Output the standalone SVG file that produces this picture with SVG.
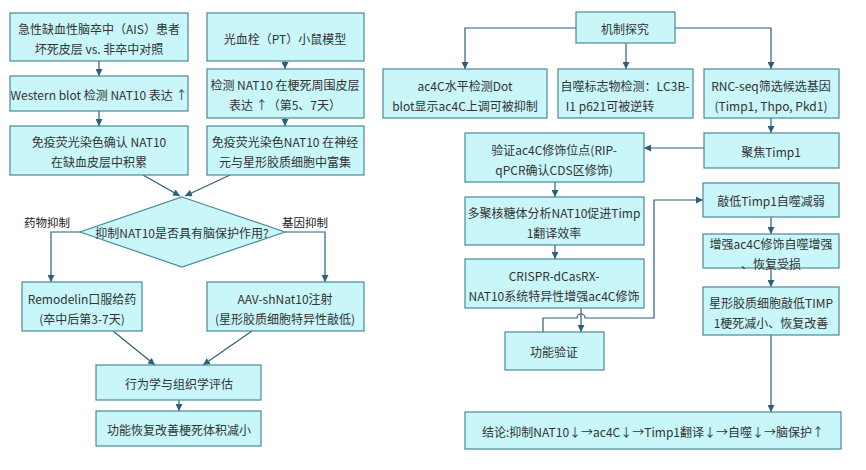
<svg xmlns="http://www.w3.org/2000/svg" width="866" height="470" viewBox="0 0 866 470">
<defs>
<marker id="ah" viewBox="0 0 10 10" refX="10" refY="5" markerWidth="7" markerHeight="7" orient="auto" markerUnits="userSpaceOnUse">
<path d="M0,0 L10,5 L0,10 z" fill="#2b5f7a"/>
</marker>
<style>
.b{fill:#c8f6f9;stroke:#4a8a9a;stroke-width:1.2}
.t{font-family:"Noto Sans CJK SC","Liberation Sans",sans-serif;font-size:12px;fill:#333;text-anchor:middle;dominant-baseline:central}
.lb{font-family:"Noto Sans CJK SC","Liberation Sans",sans-serif;font-size:11.5px;fill:#222;text-anchor:middle;dominant-baseline:central}
.c{fill:none;stroke:#2b5f7a;stroke-width:1.2}
.ca{fill:none;stroke:#2b5f7a;stroke-width:1.2;marker-end:url(#ah)}
</style>
</defs>
<rect width="866" height="470" fill="#fff"/>

<g id="connectors">
<path class="ca" d="M99,61 V76"/>
<path class="ca" d="M99,111 V126"/>
<path class="ca" d="M285,61 V69"/>
<path class="ca" d="M285,118 V126"/>
<path class="ca" d="M143,175 L180,196"/>
<path class="ca" d="M230,175 L185,196"/>
<path class="ca" d="M80,232 H51 V282"/>
<path class="ca" d="M285,232 H325 V282"/>
<path class="ca" d="M113,331 L155,365"/>
<path class="ca" d="M252,331 L203,365"/>
<path class="ca" d="M179,400 V411"/>

<path class="ca" d="M576,28 H465 V69"/>
<path class="ca" d="M626,43 V69"/>
<path class="ca" d="M675,28 H771 V69"/>
<path class="ca" d="M771,118 V133"/>
<path class="ca" d="M704,148 H644"/>
<path class="ca" d="M555,182 V197"/>
<path class="ca" d="M555,245 V259"/>
<path class="ca" d="M581,308 V332"/>
<path class="ca" d="M543,332 V318 H577 A4,4 0 0 1 585,318 H654 V200 H703"/>
<path class="ca" d="M771,217 V234"/>
<path class="ca" d="M771,268 V287"/>
<path class="ca" d="M771,335 V412"/>
</g>

<g id="n-ais"><rect class="b" x="10" y="13" width="178" height="48"/>
<text class="t" x="99" y="28">急性缺血性脑卒中（AIS）患者</text>
<text class="t" x="99" y="48">坏死皮层 vs. 非卒中对照</text></g>

<g id="n-wb"><rect class="b" x="10" y="76" width="178" height="35"/>
<text class="t" x="99" y="94">Western blot 检测 NAT10 表达 ↑</text></g>

<g id="n-if1"><rect class="b" x="10" y="126" width="178" height="49"/>
<text class="t" x="99" y="141">免疫荧光染色确认 NAT10</text>
<text class="t" x="99" y="161">在缺血皮层中积累</text></g>

<g id="n-pt"><rect class="b" x="207" y="13" width="157" height="48"/>
<text class="t" x="285" y="38">光血栓（PT）小鼠模型</text></g>

<g id="n-det"><rect class="b" x="207" y="69" width="157" height="49"/>
<text class="t" x="285" y="84">检测 NAT10 在梗死周围皮层</text>
<text class="t" x="285" y="104">表达 ↑（第5、7天）</text></g>

<g id="n-if2"><rect class="b" x="207" y="126" width="157" height="49"/>
<text class="t" x="285" y="141">免疫荧光染色NAT10 在神经</text>
<text class="t" x="285" y="161">元与星形胶质细胞中富集</text></g>

<g id="n-q"><path class="b" d="M182,197 L285,232 L182,267 L80,232 Z"/>
<text class="t" x="182" y="232">抑制NAT10是否具有脑保护作用?</text></g>

<g id="labels">
<text class="lb" x="47" y="222">药物抑制</text>
<text class="lb" x="305" y="222">基因抑制</text>
</g>

<g id="n-rem"><rect class="b" x="22" y="282" width="120" height="49"/>
<text class="t" x="82" y="298">Remodelin口服给药</text>
<text class="t" x="82" y="318">(卒中后第3-7天)</text></g>

<g id="n-aav"><rect class="b" x="207" y="282" width="157" height="49"/>
<text class="t" x="285" y="298">AAV-shNat10注射</text>
<text class="t" x="285" y="318">(星形胶质细胞特异性敲低)</text></g>

<g id="n-beh"><rect class="b" x="96" y="365" width="165" height="35"/>
<text class="t" x="179" y="383">行为学与组织学评估</text></g>

<g id="n-res"><rect class="b" x="96" y="411" width="165" height="35"/>
<text class="t" x="179" y="429">功能恢复改善梗死体积减小</text></g>

<g id="n-mech"><rect class="b" x="576" y="12" width="99" height="31"/>
<text class="t" x="625" y="28">机制探究</text></g>

<g id="n-dot"><rect class="b" x="383" y="69" width="164" height="49"/>
<text class="t" x="465" y="85">ac4C水平检测Dot</text>
<text class="t" x="465" y="105">blot显示ac4C上调可被抑制</text></g>

<g id="n-auto"><rect class="b" x="558" y="69" width="135" height="49"/>
<text class="t" x="625" y="85">自噬标志物检测：LC3B-</text>
<text class="t" x="610" y="105">I1 p621可被逆转</text></g>

<g id="n-rnc"><rect class="b" x="704" y="69" width="135" height="49"/>
<text class="t" x="771" y="85">RNC-seq筛选候选基因</text>
<text class="t" x="771" y="105">(Timp1, Thpo, Pkd1)</text></g>

<g id="n-timp"><rect class="b" x="704" y="133" width="135" height="35"/>
<text class="t" x="771" y="151">聚焦Timp1</text></g>

<g id="n-rip"><rect class="b" x="465" y="133" width="179" height="49"/>
<text class="t" x="554" y="149">验证ac4C修饰位点(RIP-</text>
<text class="t" x="554" y="169">qPCR确认CDS区修饰)</text></g>

<g id="n-poly"><rect class="b" x="465" y="197" width="179" height="48"/>
<text class="t" x="554" y="212">多聚核糖体分析NAT10促进Timp</text>
<text class="t" x="554" y="232">1翻译效率</text></g>

<g id="n-crispr"><rect class="b" x="465" y="259" width="179" height="49"/>
<text class="t" x="554" y="275">CRISPR-dCasRX-</text>
<text class="t" x="554" y="295">NAT10系统特异性增强ac4C修饰</text></g>

<g id="n-func"><rect class="b" x="505" y="332" width="99" height="38"/>
<text class="t" x="554" y="351">功能验证</text></g>

<g id="n-kd"><rect class="b" x="703" y="183" width="136" height="34"/>
<text class="t" x="771" y="200">敲低Timp1自噬减弱</text></g>

<g id="n-enh"><rect class="b" x="703" y="234" width="136" height="34"/>
<text class="t" x="771" y="243">增强ac4C修饰自噬增强</text>
<text class="t" x="771" y="263">、恢复受损</text></g>

<g id="n-astro"><rect class="b" x="703" y="287" width="136" height="48"/>
<text class="t" x="771" y="302">星形胶质细胞敲低TIMP</text>
<text class="t" x="771" y="322">1梗死减小、恢复改善</text></g>

<g id="n-concl"><rect class="b" x="465" y="412" width="376" height="37"/>
<text class="t" x="653" y="431">结论:抑制NAT10↓→ac4C↓→Timp1翻译↓→自噬↓→脑保护↑</text></g>
</svg>
